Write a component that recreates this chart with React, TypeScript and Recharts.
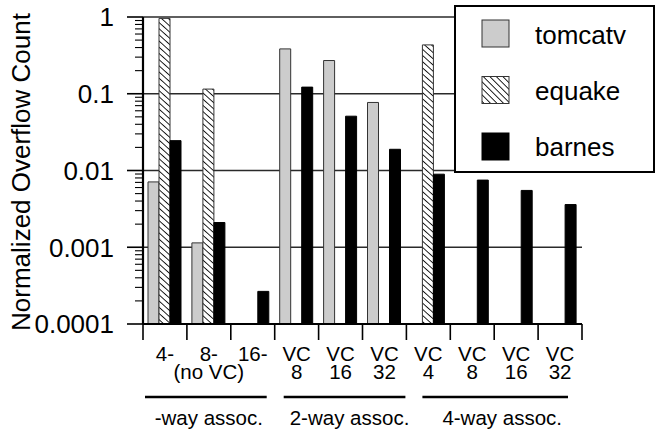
import React from 'react';
import { BarChart, Bar, XAxis, YAxis, CartesianGrid, Legend } from 'recharts';

// ---------- data ----------
const LABEL_LINE1 = ['4-', '8-', '16-', 'VC', 'VC', 'VC', 'VC', 'VC', 'VC', 'VC'];
const LABEL_LINE2 = ['', '(no VC)', '', '8', '16', '32', '4', '8', '16', '32'];
const CATEGORIES = ['4-', '8-', '16-', 'VC 8', 'VC 16', 'VC 32', 'VC 4', 'VC 8 (4-way)', 'VC 16 (4-way)', 'VC 32 (4-way)'];

const TOMCATV = [0.0071, 0.00114, null, 0.384, 0.271, 0.077, null, null, null, null];
const EQUAKE = [0.96, 0.115, null, null, null, null, 0.433, null, null, null];
const BARNES = [0.0245, 0.0021, 0.000266, 0.122, 0.051, 0.0189, 0.00895, 0.0075, 0.0055, 0.0036];

const GROUP_LABELS = ['-way assoc.', '2-way assoc.', '4-way assoc.'];
const GROUP_START = [0, 3, 6];
const GROUP_END = [2, 5, 9];

const MAJOR_TICKS = [0.0001, 0.001, 0.01, 0.1, 1];
const MAJOR_LABELS = ['0.0001', '0.001', '0.01', '0.1', '1'];
const MINOR_STEPS = [2, 3, 4, 5, 6, 7, 8, 9];

const SERIES = [
  { key: 'tomcatv', name: 'tomcatv' },
  { key: 'equake', name: 'equake' },
  { key: 'barnes', name: 'barnes' },
];

const data = CATEGORIES.map((cat, i) => ({
  cat,
  tomcatv: TOMCATV[i],
  equake: EQUAKE[i],
  barnes: BARNES[i],
}));

const ALL_Y_TICKS = [
  ...MAJOR_TICKS,
  ...MAJOR_TICKS.slice(0, -1).flatMap((d) => MINOR_STEPS.map((m) => d * m)),
];

// ---------- layout / style ----------
const W = 656;
const H = 431;
const MARGIN = { top: 17, right: 74, bottom: 0, left: 0 };
const Y_AXIS_W = 143;
const X_AXIS_H = 107;
const AXIS_X = MARGIN.left + Y_AXIS_W;
const PLOT_W = W - MARGIN.left - MARGIN.right - Y_AXIS_W;
const BAND = PLOT_W / CATEGORIES.length;
const FONT = '"Liberation Sans", Arial, Helvetica, sans-serif';
const Y_TICK_SIZE = 16;
const Y_LABEL_END = 114;
const GROUP_LINE_INSET = [
  [2, 8],
  [9, 1],
  [16, 14],
];
const GROUP_LABEL_DX = [0, 9, 8];

const STYLES: Record<string, { fill: string; stroke: string }> = {
  tomcatv: { fill: '#cccccc', stroke: '#333333' },
  equake: { fill: 'url(#hatchBar)', stroke: '#333333' },
  barnes: { fill: '#000000', stroke: '#000000' },
};

const majorIndex = (v: number) => MAJOR_TICKS.findIndex((m) => Math.abs(m - v) / m < 1e-9);

const YTick = (props: any) => {
  const { y, payload } = props;
  const idx = majorIndex(payload.value);
  const major = idx >= 0;
  return (
    <g>
      <path
        d={`M${AXIS_X - (major ? Y_TICK_SIZE : 8)},${y}H${AXIS_X}`}
        stroke="#000"
        strokeWidth={major ? 1.6 : 1.1}
        fill="none"
      />
      {major && (
        <text
          x={Y_LABEL_END}
          y={y}
          dy="0.36em"
          textAnchor="end"
          fontFamily={FONT}
          fontSize={26}
          fill="#000"
        >
          {MAJOR_LABELS[idx]}
        </text>
      )}
    </g>
  );
};

const XTick = (props: any) => {
  const { x, y, index } = props;
  const left = x - BAND / 2;
  const last = index === CATEGORIES.length - 1;
  const g = GROUP_START.indexOf(index);
  let groupEls = null;
  if (g >= 0) {
    const gx0 = left;
    const gx1 = left + (GROUP_END[g] - GROUP_START[g] + 1) * BAND;
    const cx = (gx0 + gx1) / 2;
    groupEls = (
      <g>
        <line
          x1={gx0 + GROUP_LINE_INSET[g][0]}
          x2={gx1 - GROUP_LINE_INSET[g][1]}
          y1={y + 73}
          y2={y + 73}
          stroke="#000"
          strokeWidth={2.5}
        />
        <text
          x={cx + GROUP_LABEL_DX[g]}
          y={y + 101}
          textAnchor="middle"
          fontFamily={FONT}
          fontSize={20.5}
          fill="#000"
        >
          {GROUP_LABELS[g]}
        </text>
      </g>
    );
  }
  return (
    <g>
      <line x1={left} x2={left} y1={y} y2={y + 16} stroke="#000" strokeWidth={1.6} />
      {last && (
        <line x1={left + BAND} x2={left + BAND} y1={y} y2={y + 16} stroke="#000" strokeWidth={1.6} />
      )}
      <text x={x} y={y + 37} textAnchor="middle" fontFamily={FONT} fontSize={20.5} fill="#000">
        {LABEL_LINE1[index]}
      </text>
      {LABEL_LINE2[index] && (
        <text x={x} y={y + 55} textAnchor="middle" fontFamily={FONT} fontSize={20.5} fill="#000">
          {LABEL_LINE2[index]}
        </text>
      )}
      {groupEls}
    </g>
  );
};

const YLabel = () => (
  <text
    x={30}
    y={172}
    transform="rotate(-90 30 172)"
    textAnchor="middle"
    fontFamily={FONT}
    fontSize={26}
    fill="#000"
  >
    Normalized Overflow Count
  </text>
);

const LegendBox = () => (
  <svg width={201} height={168} style={{ display: 'block' }}>
    <rect x={1} y={1} width={199} height={166} fill="#fff" stroke="#000" strokeWidth={2} />
    {SERIES.map((s, i) => (
      <g key={s.key}>
        <rect
          x={28}
          y={15 + 56.5 * i}
          width={27}
          height={27}
          fill={s.key === 'equake' ? 'url(#hatchLegend)' : STYLES[s.key].fill}
          stroke={STYLES[s.key].stroke}
          strokeWidth={1}
        />
        <text x={81} y={39 + 56 * i} fontFamily={FONT} fontSize={26} fill="#000">
          {s.name}
        </text>
      </g>
    ))}
  </svg>
);

export default function App() {
  return (
    <div style={{ position: 'absolute', left: 0, top: 0, width: W, height: H, background: '#fff' }}>
      <svg width={0} height={0} style={{ position: 'absolute' }}>
        <defs>
          <pattern
            id="hatchBar"
            patternUnits="userSpaceOnUse"
            width={10}
            height={4.6}
            patternTransform="rotate(42)"
          >
            <rect width={10} height={4.6} fill="#fff" />
            <line x1={0} y1={2.3} x2={10} y2={2.3} stroke="#000" strokeWidth={0.9} />
          </pattern>
          <pattern
            id="hatchLegend"
            patternUnits="userSpaceOnUse"
            width={10}
            height={4.6}
            patternTransform="rotate(45)"
          >
            <rect width={10} height={4.6} fill="#fff" />
            <line x1={0} y1={2.3} x2={10} y2={2.3} stroke="#000" strokeWidth={0.9} />
          </pattern>
        </defs>
      </svg>
      <BarChart width={W} height={H} data={data} margin={MARGIN} barGap={0} barSize={11}>
        <CartesianGrid yAxisId="grid" vertical={false} stroke="#2a2a2a" strokeWidth={1.3} />
        <XAxis
          dataKey="cat"
          height={X_AXIS_H}
          interval={0}
          tickLine={false}
          tickSize={0}
          tickMargin={0}
          axisLine={{ stroke: '#000', strokeWidth: 2 }}
          tick={<XTick />}
        />
        <YAxis
          yAxisId="main"
          orientation="left"
          scale="log"
          domain={[0.0001, 1]}
          allowDataOverflow
          ticks={ALL_Y_TICKS}
          interval={0}
          width={Y_AXIS_W}
          tickLine={false}
          tickSize={Y_TICK_SIZE}
          axisLine={{ stroke: '#000', strokeWidth: 2.2 }}
          tick={<YTick />}
          label={<YLabel />}
        />
        <YAxis
          yAxisId="grid"
          orientation="right"
          width={0}
          hide
          scale="log"
          domain={[0.0001, 1]}
          allowDataOverflow
          ticks={MAJOR_TICKS}
          interval={0}
        />
        {SERIES.map((s) => (
          <Bar
            key={s.key}
            yAxisId="main"
            dataKey={s.key}
            name={s.name}
            fill={STYLES[s.key].fill}
            stroke={STYLES[s.key].stroke}
            strokeWidth={1}
            isAnimationActive={false}
          />
        ))}
        <Legend
          layout="vertical"
          align="center"
          verticalAlign="middle"
          content={<LegendBox />}
          wrapperStyle={{ position: 'absolute', left: 454, top: 5, width: 201, height: 168 }}
        />
      </BarChart>
    </div>
  );
}
